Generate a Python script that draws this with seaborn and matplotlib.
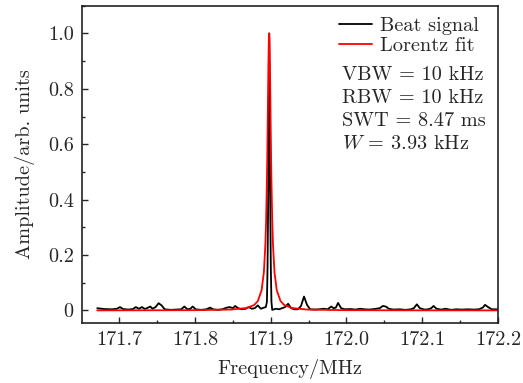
import matplotlib
matplotlib.use("Agg")
import pandas as pd
import seaborn as sns
import matplotlib.pyplot as plt
from matplotlib.ticker import MultipleLocator, FuncFormatter

# beat signal (frequency in MHz, amplitude normalised)
freq_beat = [171.671, 171.680, 171.690, 171.697, 171.701, 171.705, 171.712, 171.718, 171.722, 171.726,
             171.730, 171.734, 171.738, 171.741, 171.744, 171.748, 171.752, 171.756, 171.760, 171.768,
             171.775, 171.782, 171.786, 171.790, 171.794, 171.797, 171.801, 171.808, 171.815, 171.820,
             171.824, 171.830, 171.836, 171.842, 171.846, 171.850, 171.853, 171.857, 171.862, 171.867,
             171.871, 171.875, 171.879, 171.883, 171.887, 171.891, 171.8935, 171.8950, 171.8958, 171.8965,
             171.8972, 171.8977, 171.8980, 171.8983, 171.8988, 171.8995, 171.9002, 171.9010, 171.9020, 171.907,
             171.911, 171.915, 171.919, 171.923, 171.927, 171.931, 171.936, 171.940, 171.944, 171.948,
             171.952, 171.958, 171.964, 171.970, 171.975, 171.980, 171.983, 171.986, 171.989, 171.993,
             171.998, 172.005, 172.012, 172.018, 172.024, 172.030, 172.037, 172.044, 172.048, 172.052,
             172.056, 172.062, 172.070, 172.078, 172.085, 172.089, 172.093, 172.097, 172.103, 172.108,
             172.112, 172.115, 172.119, 172.125, 172.131, 172.138, 172.145, 172.152, 172.160, 172.168,
             172.175, 172.180, 172.183, 172.187, 172.192, 172.200]
amp_beat = [0.008, 0.005, 0.004, 0.006, 0.012, 0.005, 0.003, 0.005, 0.012, 0.006,
            0.012, 0.005, 0.010, 0.014, 0.006, 0.012, 0.026, 0.018, 0.004, 0.002,
            0.003, 0.004, 0.014, 0.004, 0.006, 0.014, 0.004, 0.002, 0.004, 0.010,
            0.004, 0.002, 0.004, 0.010, 0.012, 0.008, 0.016, 0.008, 0.004, 0.006,
            0.012, 0.006, 0.008, 0.018, 0.006, 0.010, 0.012, 0.030, 0.150, 0.350,
            0.600, 0.850, 1.000, 0.850, 0.600, 0.350, 0.150, 0.030, 0.002, 0.006,
            0.004, 0.008, 0.012, 0.024, 0.008, 0.004, 0.004, 0.016, 0.050, 0.020,
            0.004, 0.003, 0.004, 0.006, 0.004, 0.014, 0.008, 0.010, 0.027, 0.008,
            0.004, 0.005, 0.003, 0.006, 0.004, 0.003, 0.005, 0.008, 0.016, 0.014,
            0.006, 0.003, 0.004, 0.002, 0.004, 0.008, 0.022, 0.008, 0.003, 0.004,
            0.008, 0.016, 0.006, 0.003, 0.006, 0.002, 0.004, 0.003, 0.004, 0.003,
            0.004, 0.010, 0.020, 0.012, 0.004, 0.004]

# Lorentz fit curve
freq_fit = [171.671, 171.698, 171.798, 171.848, 171.868, 171.878, 171.883, 171.888, 171.891, 171.893,
            171.894, 171.895, 171.8955, 171.896, 171.8965, 171.897, 171.8975, 171.898, 171.8985, 171.899,
            171.8995, 171.900, 171.9005, 171.901, 171.902, 171.903, 171.905, 171.908, 171.913, 171.918,
            171.928, 171.948, 171.998, 172.098, 172.200]
amp_fit = [0.0002, 0.0003, 0.0008, 0.0031, 0.0086, 0.0192, 0.0337, 0.0727, 0.138, 0.239,
           0.329, 0.466, 0.556, 0.662, 0.777, 0.887, 0.969, 1.000, 0.969, 0.887,
           0.777, 0.662, 0.556, 0.466, 0.329, 0.239, 0.138, 0.0727, 0.0337, 0.0192,
           0.0086, 0.0031, 0.0008, 0.0002, 0.0001]

notes = ["VBW = 10 kHz", "RBW = 10 kHz", "SWT = 8.47 ms", "$W$ = 3.93 kHz"]

beat = pd.DataFrame({"f": freq_beat, "a": amp_beat})
fit = pd.DataFrame({"f": freq_fit, "a": amp_fit})

fs = 14.6

sns.set_style("ticks")
plt.rcParams["font.family"] = ["cmr10", "DejaVu Serif"]
plt.rcParams["mathtext.fontset"] = "cm"
plt.rcParams["axes.formatter.use_mathtext"] = True
plt.rcParams["font.size"] = fs

fig = plt.figure(figsize=(5.23, 3.83), dpi=100)
ax = fig.add_axes([0.157, 0.157, 0.795, 0.828])

sns.lineplot(data=beat, x="f", y="a", color="black", lw=1.3, label="Beat signal", ax=ax, sort=False)
sns.lineplot(data=fit, x="f", y="a", color="#ff0000", lw=1.3, label="Lorentz fit", ax=ax, sort=False)

ax.set_xlim(171.651, 172.2)
ax.set_ylim(-0.045, 1.1)
ax.xaxis.set_major_locator(MultipleLocator(0.1))
ax.xaxis.set_minor_locator(MultipleLocator(0.05))
ax.yaxis.set_major_locator(MultipleLocator(0.2))
ax.yaxis.set_minor_locator(MultipleLocator(0.1))
ax.xaxis.set_major_formatter(FuncFormatter(lambda v, p: f"{v:.1f}"))
ax.yaxis.set_major_formatter(FuncFormatter(lambda v, p: "0" if abs(v) < 1e-9 else f"{v:.1f}"))
ax.tick_params(which="major", direction="in", length=4, width=1, labelsize=fs, pad=6)
ax.tick_params(which="minor", direction="in", length=2, width=1)
for s in ax.spines.values():
    s.set_linewidth(1.2)
    s.set_color("#222222")

ax.set_xlabel("Frequency/MHz", fontsize=fs, labelpad=7)
ax.set_ylabel("Amplitude/arb. units", fontsize=fs, labelpad=9)

ax.legend(loc="upper left", bbox_to_anchor=(0.619, 0.964), frameon=False, fontsize=fs,
          handlelength=1.6, handletextpad=0.4, borderpad=0, borderaxespad=0, labelspacing=0.08)

for i, t in enumerate(notes):
    ax.text(0.625, 0.78 - i * 0.072, t, transform=ax.transAxes, fontsize=fs, va="center", ha="left")

fig.savefig("out.png", dpi=100)
